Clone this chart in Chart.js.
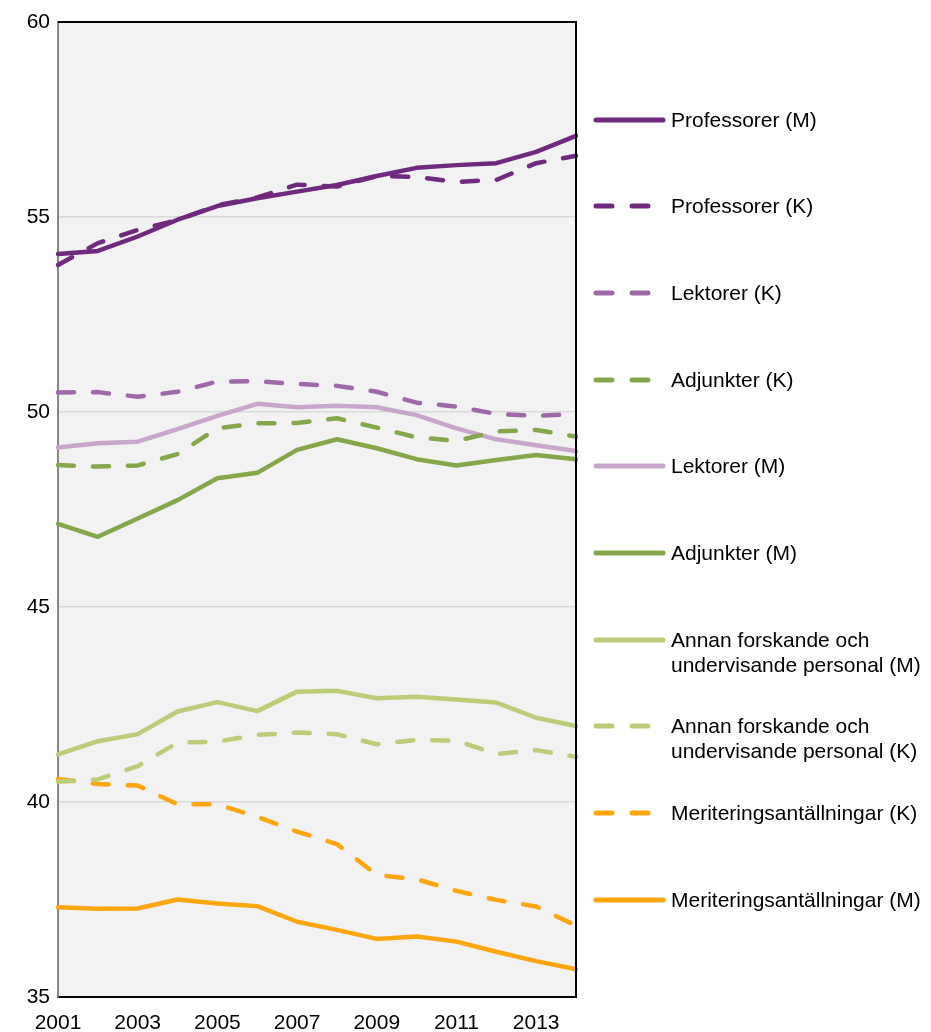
<!DOCTYPE html>
<html>
<head>
<meta charset="utf-8">
<script src="https://cdn.jsdelivr.net/npm/chart.js@4"></script>
<style>
  body { margin: 0; background: #fff; font-family: "Liberation Sans", Arial, sans-serif; }
  #wrap { position: relative; width: 931px; height: 1032px; }
  #legend { position: absolute; left: 593px; top: 0; }
  .item { position: absolute; left: 0; width: 340px; font-size: 21px; line-height: 25px; color: #000; }
  .item svg { position: absolute; left: 0; top: 8px; }
  .item span { position: absolute; left: 78px; top: 0; white-space: nowrap; }
</style>
</head>
<body>
<div id="wrap">
  <canvas id="chart" width="931" height="1032"></canvas>
  <div id="legend"></div>
</div>
<script>
// år på x-axeln
const years = ['2001','2002','2003','2004','2005','2006','2007','2008','2009','2010','2011','2012','2013','2014'];

// medelålder per grupp (M = män, K = kvinnor)
const profM  = [54.05, 54.13, 54.5, 54.93, 55.28, 55.48, 55.65, 55.82, 56.05, 56.26, 56.33, 56.38, 56.67, 57.08];
const profK  = [53.77, 54.33, 54.67, 54.92, 55.3, 55.5, 55.83, 55.78, 56.05, 56.03, 55.9, 55.95, 56.38, 56.57];
const lektK  = [50.5, 50.51, 50.39, 50.52, 50.78, 50.79, 50.72, 50.67, 50.52, 50.24, 50.14, 49.95, 49.9, 49.95];
const adjK   = [48.64, 48.6, 48.63, 48.92, 49.58, 49.71, 49.72, 49.84, 49.6, 49.35, 49.26, 49.5, 49.54, 49.37];
const lektM  = [49.09, 49.2, 49.24, 49.56, 49.9, 50.21, 50.12, 50.16, 50.12, 49.92, 49.58, 49.3, 49.15, 49.0];
const adjM   = [47.13, 46.8, 47.27, 47.74, 48.3, 48.44, 49.03, 49.3, 49.07, 48.79, 48.63, 48.77, 48.9, 48.79];
const annanM = [41.22, 41.56, 41.74, 42.32, 42.56, 42.33, 42.83, 42.85, 42.66, 42.7, 42.63, 42.55, 42.16, 41.95];
const annanK = [40.52, 40.58, 40.92, 41.52, 41.55, 41.72, 41.78, 41.74, 41.48, 41.59, 41.57, 41.23, 41.33, 41.16];
const meritK = [40.59, 40.46, 40.42, 39.94, 39.94, 39.62, 39.24, 38.92, 38.13, 38.02, 37.72, 37.49, 37.32, 36.83];
const meritM = [37.3, 37.26, 37.27, 37.5, 37.4, 37.33, 36.93, 36.72, 36.49, 36.55, 36.42, 36.16, 35.92, 35.71];

const yTicks = [35, 40, 45, 50, 55, 60];

const PURPLE = '#70297f', LILAC = '#9f68a8', PINK = '#c9a7cd';
const GREEN = '#85a74a', LIME = '#bccd78', ORANGE = '#ffa50d';
const DASH = [16, 19];

function series(label, data, color, dashed) {
  return {
    label, data,
    borderColor: color,
    backgroundColor: color,
    borderWidth: 4.5,
    borderDash: dashed ? DASH : [],
    borderCapStyle: 'round',
    borderJoinStyle: 'round',
    pointRadius: 0,
    tension: 0,
    fill: false
  };
}

// ordning som i förklaringen
const datasets = [
  series('Professorer (M)', profM, PURPLE, false),
  series('Professorer (K)', profK, PURPLE, true),
  series('Lektorer (K)', lektK, LILAC, true),
  series('Adjunkter (K)', adjK, GREEN, true),
  series('Lektorer (M)', lektM, PINK, false),
  series('Adjunkter (M)', adjM, GREEN, false),
  series('Annan forskande och\nundervisande personal (M)', annanM, LIME, false),
  series('Annan forskande och\nundervisande personal (K)', annanK, LIME, true),
  series('Meriteringsantällningar (K)', meritK, ORANGE, true),
  series('Meriteringsantällningar (M)', meritM, ORANGE, false)
];

// bakgrund i ritytan + ram upptill och till höger
const plotFrame = {
  id: 'plotFrame',
  beforeDraw(chart) {
    const a = chart.chartArea, c = chart.ctx;
    c.save();
    c.fillStyle = '#f2f2f2';
    c.fillRect(a.left, a.top, a.right - a.left, a.bottom - a.top);
    c.restore();
  },
  afterDraw(chart) {
    const a = chart.chartArea, c = chart.ctx;
    c.save();
    c.strokeStyle = '#000';
    c.lineWidth = 2;
    c.beginPath();
    c.moveTo(a.left, a.top);
    c.lineTo(a.right, a.top);
    c.lineTo(a.right, a.bottom);
    c.stroke();
    c.restore();
  }
};

const chart = new Chart(document.getElementById('chart').getContext('2d'), {
  type: 'line',
  data: { labels: years, datasets },
  options: {
    responsive: false,
    animation: false,
    layout: { padding: { top: 22, right: 355, left: 0, bottom: 0 } },
    plugins: { legend: { display: false }, tooltip: { enabled: false } },
    scales: {
      x: {
        offset: false,
        grid: { display: false, drawTicks: false },
        border: { color: '#000', width: 2 },
        ticks: {
          autoSkip: false, maxRotation: 0, padding: 14,
          color: '#000',
          font: { family: 'Liberation Sans', size: 21 },
          callback: function (v, i) { return i % 2 === 0 ? this.getLabelForValue(v) : ''; }
        },
        afterFit: s => { s.height = 35; }
      },
      y: {
        min: 35, max: 60,
        afterBuildTicks: s => { s.ticks = yTicks.map(v => ({ value: v })); },
        grid: { color: '#d9d9d9', lineWidth: 1.5, drawTicks: false },
        border: { color: '#868686', width: 2 },
        ticks: { padding: 8, color: '#000', font: { family: 'Liberation Sans', size: 21 } },
        afterFit: s => { s.width = 58; }
      }
    }
  },
  plugins: [plotFrame]
});

// egen förklaring till höger
const legendEl = document.getElementById('legend');
datasets.forEach((ds, i) => {
  const item = document.createElement('div');
  item.className = 'item';
  item.style.top = (119 + i * 86.7 - 12.5) + 'px';
  const dash = ds.borderDash.length ? ' stroke-dasharray="16 20"' : '';
  item.innerHTML =
    '<svg width="76" height="10"><line x1="3" y1="5" x2="70" y2="5" stroke="' + ds.borderColor +
    '" stroke-width="5" stroke-linecap="round"' + dash + '/></svg>' +
    '<span>' + ds.label.replace('\n', '<br>') + '</span>';
  legendEl.appendChild(item);
});
</script>
</body>
</html>
